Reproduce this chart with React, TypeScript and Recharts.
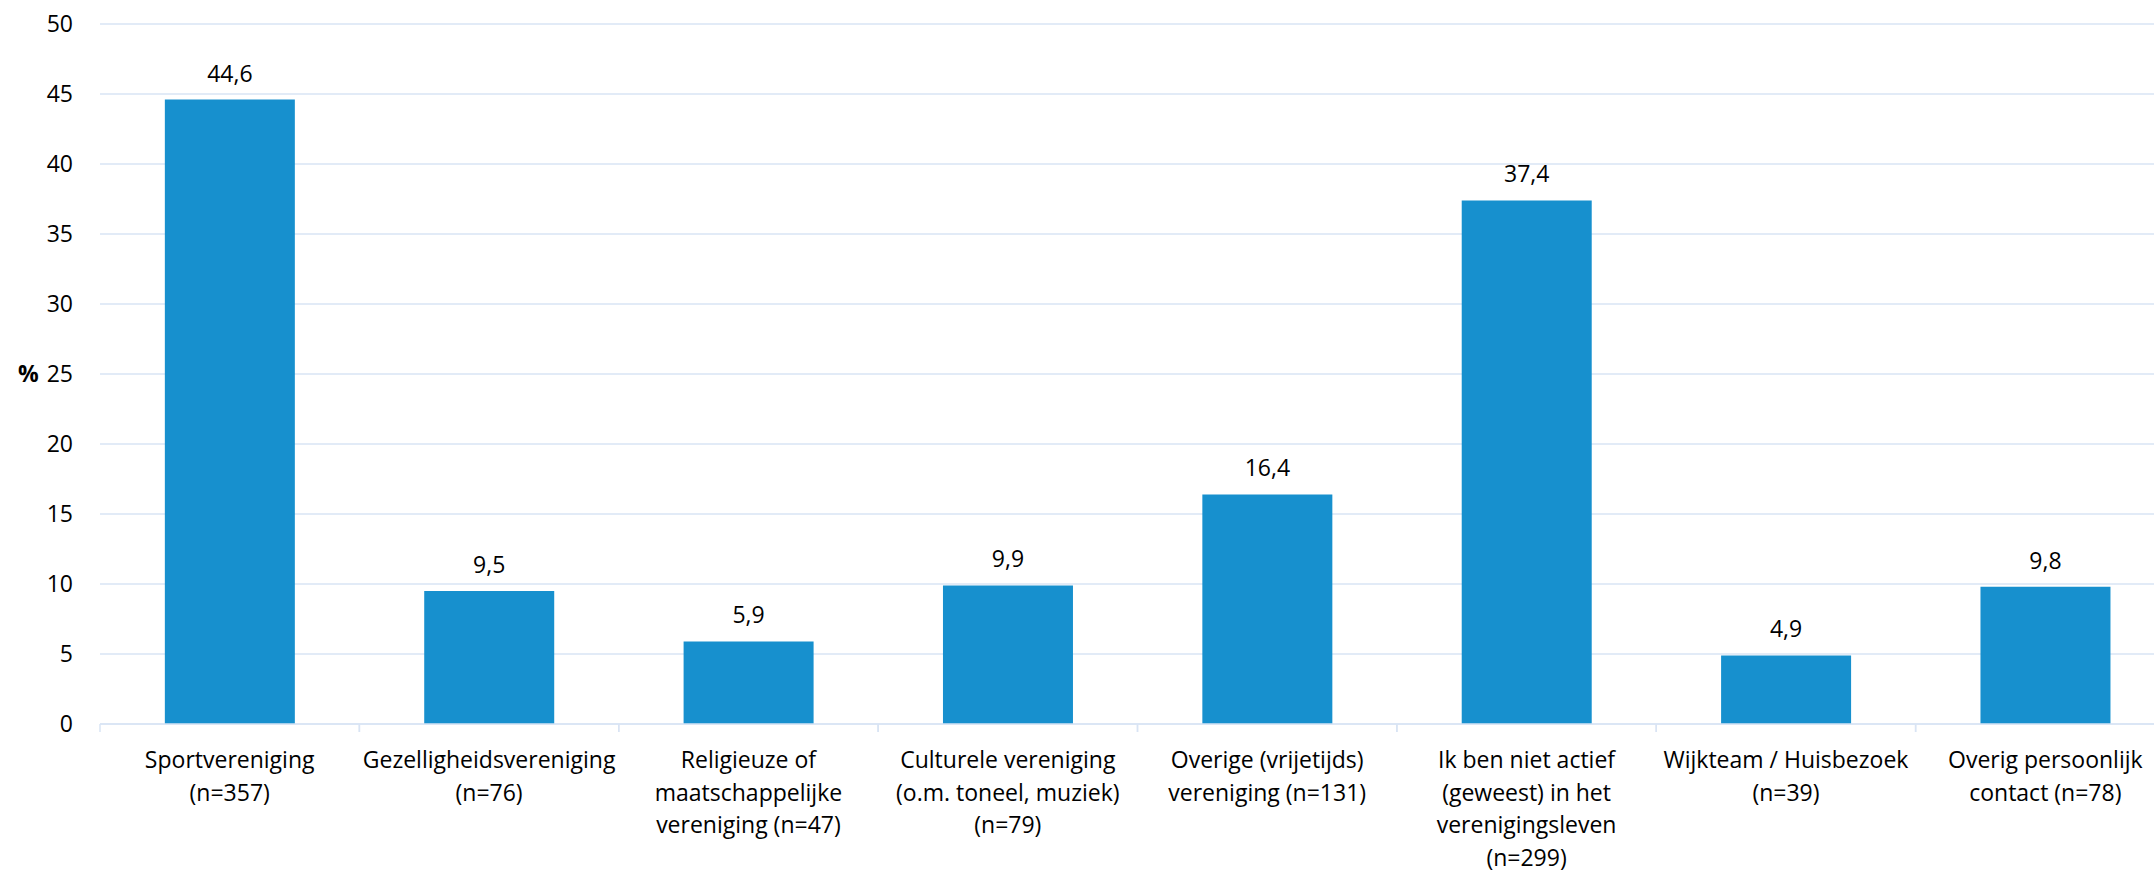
import React from 'react';
import { BarChart, Bar, XAxis, YAxis, CartesianGrid, LabelList, Label } from 'recharts';

const categories: string[][] = [
  ['Sportvereniging', '(n=357)'],
  ['Gezelligheidsvereniging', '(n=76)'],
  ['Religieuze of', 'maatschappelijke', 'vereniging (n=47)'],
  ['Culturele vereniging', '(o.m. toneel, muziek)', '(n=79)'],
  ['Overige (vrijetijds)', 'vereniging (n=131)'],
  ['Ik ben niet actief', '(geweest) in het', 'verenigingsleven', '(n=299)'],
  ['Wijkteam / Huisbezoek', '(n=39)'],
  ['Overig persoonlijk', 'contact (n=78)'],
];
const values: number[] = [44.6, 9.5, 5.9, 9.9, 16.4, 37.4, 4.9, 9.8];
const yTicks: number[] = [0, 5, 10, 15, 20, 25, 30, 35, 40, 45, 50];

const data = categories.map((c, i) => ({ name: c.join('\n'), value: values[i] }));

const FONT = "'Open Sans', sans-serif";
const GRID = '#d9e4f4';
const BAR = '#1790ce';

const CHART_W = 2180;
const CHART_H = 862;
const MARGIN = { top: 16, right: 13, bottom: 0, left: 0 };
const Y_W = 92;
const BAND = (CHART_W - MARGIN.left - MARGIN.right - Y_W) / categories.length;

const XTick = (props: any) => {
  const { x, y, payload } = props;
  // y here is axis line + tickSize(6) + tickMargin(2)
  const axisY = y - 8;
  const lines = String(payload.value).split('\n');
  return (
    <g>
      <line x1={x - BAND / 2} x2={x - BAND / 2} y1={axisY} y2={axisY + 8} stroke={GRID} strokeWidth={1.5} />
      <line x1={x + BAND / 2} x2={x + BAND / 2} y1={axisY} y2={axisY + 8} stroke={GRID} strokeWidth={1.5} />
      <text x={x} y={axisY} textAnchor="middle" fontFamily={FONT} fontSize={23} fill="#000">
        {lines.map((l, i) => (
          <tspan key={i} x={x} y={axisY + 44 + i * 32.7}>{l}</tspan>
        ))}
      </text>
    </g>
  );
};

export default function App() {
  return (
    <div style={{ position: 'fixed', left: 0, top: 0, width: 2154, height: 870, overflow: 'hidden', background: '#fff' }}>
      <div style={{ position: 'absolute', left: 8, top: 8 }}>
        <BarChart width={CHART_W} height={CHART_H} data={data} margin={MARGIN} barCategoryGap="25%">
          <CartesianGrid vertical={false} stroke={GRID} strokeWidth={1.5} />
          <XAxis
            dataKey="name"
            interval={0}
            tickLine={false}
            axisLine={{ stroke: GRID, strokeWidth: 1.5 }}
            tick={<XTick />}
            height={146}
          />
          <YAxis
            domain={[0, 50]}
            ticks={yTicks}
            width={Y_W}
            axisLine={false}
            tickLine={false}
            tickMargin={21}
            tick={{ fontFamily: FONT, fontSize: 23, fill: '#000' }}
          >
            <Label value="%" position="insideLeft" offset={10} fontFamily={FONT} fontSize={23} fontWeight="bold" fill="#000" />
          </YAxis>
          <Bar dataKey="value" fill={BAR} isAnimationActive={false}>
            <LabelList
              dataKey="value"
              position="top"
              offset={18}
              formatter={(v: any) => String(v).replace('.', ',')}
              fontFamily={FONT}
              fontSize={23}
              fill="#000"
            />
          </Bar>
        </BarChart>
      </div>
    </div>
  );
}
